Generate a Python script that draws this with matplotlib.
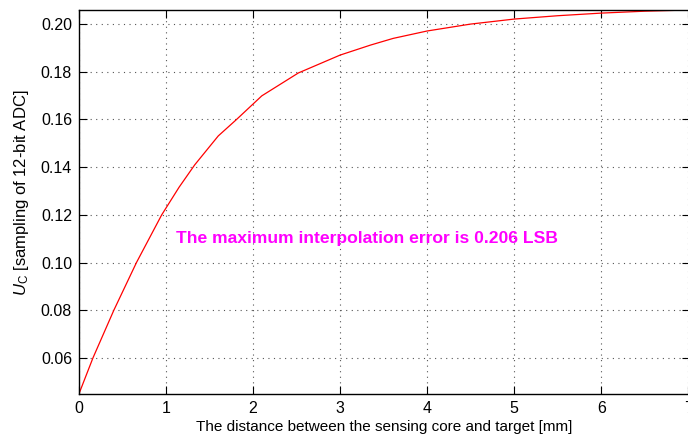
import matplotlib.pyplot as plt

plt.rcParams['font.family'] = ['Liberation Sans', 'DejaVu Sans']
plt.rcParams['mathtext.fontset'] = 'custom'
plt.rcParams['mathtext.rm'] = 'Liberation Sans'
plt.rcParams['mathtext.it'] = 'Liberation Sans:italic'

# distance [mm] and sampled voltage
distance = [0.0, 0.16, 0.40, 0.66, 0.95, 1.15, 1.33, 1.60, 1.81, 2.10, 2.52,
            3.0, 3.35, 3.61, 4.0, 4.5, 5.0, 5.5, 6.0, 6.5, 7.0]
u_c = [0.045, 0.060, 0.080, 0.100, 0.120, 0.1316, 0.1410, 0.1531, 0.160, 0.1699, 0.1795,
       0.1870, 0.1912, 0.1940, 0.1971, 0.2000, 0.2021, 0.2035, 0.2046, 0.2054, 0.2059]

x_ticks = [0, 1, 2, 3, 4, 5, 6, 7]
y_ticks = [0.06, 0.08, 0.10, 0.12, 0.14, 0.16, 0.18, 0.20]
note = 'The maximum interpolation error is 0.206 LSB'

fig = plt.figure(figsize=(6.88, 4.36), dpi=100)
ax = fig.add_axes([79 / 688, 42 / 436, 611 / 688, 384 / 436])

ax.plot(distance, u_c, color='red', linewidth=0.9)

ax.set_xlim(0, 7.02)
ax.set_ylim(0.0449, 0.2059)
ax.set_xticks(x_ticks)
ax.set_yticks(y_ticks)
ax.set_yticklabels([f'{v:.2f}' for v in y_ticks])
ax.tick_params(direction='in', length=6, width=0.8, labelsize=11.5,
               top=True, right=True, pad=5)
for s in ax.spines.values():
    s.set_linewidth(1.0)

ax.grid(True, linestyle=(0, (1, 4)), color='#555555', linewidth=0.8)

ax.text(1.11, 0.1103, note, color='magenta', fontsize=12.6, fontweight='bold',
        va='center', ha='left')

ax.set_xlabel('The distance between the sensing core and target [mm]', fontsize=11, labelpad=3)
ax.set_ylabel(r'$\mathit{U}_\mathrm{C}$ [sampling of 12-bit ADC]', fontsize=12)
ax.yaxis.set_label_coords(-0.078, 0.525)

fig.savefig('out.png', dpi=100)
